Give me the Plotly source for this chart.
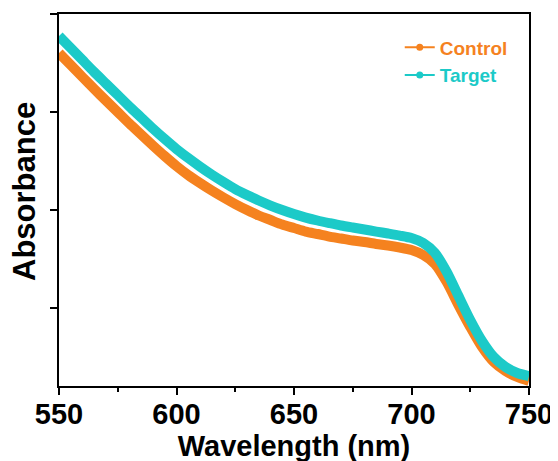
import plotly.graph_objects as go

wavelength = list(range(550, 751, 5))

control = [3.602, 3.479, 3.356, 3.234, 3.116, 2.999, 2.881, 2.769, 2.657, 2.549,
           2.447, 2.355, 2.274, 2.197, 2.126, 2.059, 1.998, 1.942, 1.896, 1.850,
           1.814, 1.778, 1.753, 1.727, 1.707, 1.686, 1.671, 1.651, 1.635, 1.615,
           1.589, 1.538, 1.446, 1.262, 1.027, 0.803, 0.598, 0.445, 0.353, 0.292,
           0.251]

target = [3.775, 3.653, 3.530, 3.407, 3.290, 3.173, 3.055, 2.943, 2.830, 2.723,
          2.621, 2.529, 2.442, 2.360, 2.284, 2.212, 2.151, 2.095, 2.044, 1.998,
          1.957, 1.921, 1.891, 1.865, 1.840, 1.819, 1.799, 1.778, 1.758, 1.737,
          1.712, 1.661, 1.559, 1.365, 1.119, 0.874, 0.660, 0.496, 0.394, 0.333,
          0.302]

x_ticks = [550, 600, 650, 700, 750]
y_ticks = [1, 2, 3, 4]

ORANGE = "#F5821F"
CYAN = "#1CCAC8"
FONT = "Liberation Sans, Arial, sans-serif"

fig = go.Figure()

for name, ys, col in [("Control", control, ORANGE), ("Target", target, CYAN)]:
    fig.add_trace(go.Scatter(
        x=wavelength, y=ys, mode="lines",
        line=dict(color=col, width=10, shape="spline", smoothing=0.7),
        showlegend=False, hoverinfo="skip"))

for name, col in [("Control", ORANGE), ("Target", CYAN)]:
    fig.add_trace(go.Scatter(
        x=[None], y=[None], mode="lines+markers",
        name=f"<span style='color:{col}'><b>{name}</b></span>",
        line=dict(color=col, width=2),
        marker=dict(color=col, size=7, symbol="circle")))

# page body has an 8px default margin, so margins are offset by 8px
fig.update_layout(
    width=558, height=461,
    margin=dict(l=51, r=37, t=6, b=83),
    paper_bgcolor="white", plot_bgcolor="white",
    font=dict(family=FONT, color="black"),
    legend=dict(x=0.725, y=0.961, xanchor="left", yanchor="top",
                bgcolor="rgba(0,0,0,0)", font=dict(size=19, family=FONT),
                tracegroupgap=0, itemwidth=30),
    annotations=[dict(
        text="<b>Absorbance</b>", textangle=-90,
        xref="paper", yref="paper", x=-0.072, y=0.522,
        xanchor="center", yanchor="middle", showarrow=False,
        font=dict(size=31, family=FONT, color="black"))],
)

fig.update_xaxes(
    range=[550, 750], tickvals=x_ticks, ticktext=[str(v) for v in x_ticks],
    showgrid=False, zeroline=False, automargin=False,
    showline=True, linecolor="black", linewidth=2, mirror=True,
    ticks="outside", ticklen=7, tickwidth=1.5, tickcolor="black",
    minor=dict(dtick=25, tick0=550, ticks="outside", ticklen=4, tickwidth=1.5, tickcolor="black"),
    tickfont=dict(size=29, family=FONT, color="black", weight="bold"),
    ticklabelstandoff=-6,
    title=dict(text="<b>Wavelength (nm)</b>", font=dict(size=29, family=FONT, color="black"), standoff=0),
)

fig.update_yaxes(
    range=[0.2, 4.001], tickvals=y_ticks, showticklabels=False,
    showgrid=False, zeroline=False, automargin=False,
    showline=True, linecolor="black", linewidth=2, mirror=True,
    ticks="outside", ticklen=7, tickwidth=1.5, tickcolor="black",
)

fig.write_html("out.html")
